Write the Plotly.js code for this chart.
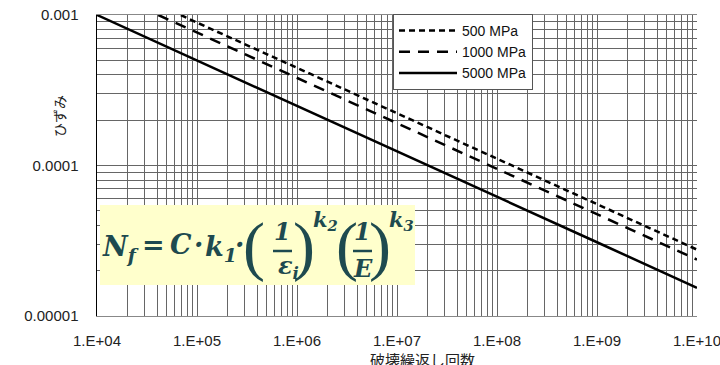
<!DOCTYPE html>
<html><head><meta charset="utf-8">
<script src="https://cdn.plot.ly/plotly-3.0.1.min.js"></script>
<style>html,body{margin:0;padding:0;background:#fff}#chart{width:720px;height:365px}</style>
</head><body><div id="chart"></div>
<script>
// ---- data ----
const seriesNames = ['500 MPa', '1000 MPa', '5000 MPa'];
const cycles500  = [6.9e4, 1e5, 1e6, 1e7, 1e8, 1e9, 1e10];
const strain500  = [1.0e-3, 8.9e-4, 4.46e-4, 2.22e-4, 1.11e-4, 5.53e-5, 2.76e-5];
const cycles1000 = [4.1e4, 1e5, 1e6, 1e7, 1e8, 1e9, 1e10];
const strain1000 = [1.0e-3, 7.66e-4, 3.82e-4, 1.91e-4, 9.5e-5, 4.74e-5, 2.37e-5];
const cycles5000 = [1e4, 1e5, 1e6, 1e7, 1e8, 1e9, 1e10];
const strain5000 = [1.0e-3, 5.0e-4, 2.49e-4, 1.24e-4, 6.2e-5, 3.09e-5, 1.54e-5];
const xTickVals = [1e4, 1e5, 1e6, 1e7, 1e8, 1e9, 1e10];
const xTickText = ['1.E+04', '1.E+05', '1.E+06', '1.E+07', '1.E+08', '1.E+09', '1.E+10'];
const yTickVals = [1e-5, 1e-4, 1e-3];
const yTickText = ['0.00001', '0.0001', '0.001'];
const xTitle = '破壊繰返し回数';
const yTitle = 'ひずみ';

// ---- layout helpers ----
const L = 97, R = 697, T = 15, B = 316, W = 720, H = 365;
const px = x => (x - L) / (R - L);
const py = y => (B - y) / (B - T);
function minorVals(lo, hi) {
  const v = [];
  for (let e = lo; e < hi; e++) for (let m = 2; m <= 9; m++) v.push(m * Math.pow(10, e));
  return v;
}
const gridC = '#666666';
const teal = '#1e4a4f';

const lineW = 2.5;
const traces = [
  {x: cycles500, y: strain500, name: seriesNames[0], mode: 'lines',
   line: {color: '#000', width: lineW, dash: '6px,4px'}},
  {x: cycles1000, y: strain1000, name: seriesNames[1], mode: 'lines',
   line: {color: '#000', width: lineW, dash: '11px,8px'}},
  {x: cycles5000, y: strain5000, name: seriesNames[2], mode: 'lines',
   line: {color: '#000', width: lineW}}
];

const fF = 'DejaVu Serif';
function piece(text, cx, cy, size, anchor) {
  return {xref: 'paper', yref: 'paper', x: px(cx), y: py(cy), text: '<b><i>' + text + '</i></b>',
    showarrow: false, xanchor: anchor || 'center', yanchor: 'middle',
    font: {family: fF, size: size, color: teal}};
}
function paren(text, cx) {
  return {xref: 'paper', yref: 'paper', x: px(cx), y: py(246), text: text,
    showarrow: false, xanchor: 'center', yanchor: 'middle',
    font: {family: 'Liberation Serif', size: 66, color: teal}};
}

const annotations = [
  {xref: 'paper', yref: 'paper', x: px(422), y: py(359), text: xTitle, showarrow: false,
   xanchor: 'center', yanchor: 'middle', font: {family: 'Noto Sans CJK JP', size: 15, color: '#222'}},
  {xref: 'paper', yref: 'paper', x: px(59), y: py(116), text: yTitle, showarrow: false, textangle: -90,
   xanchor: 'center', yanchor: 'middle', font: {family: 'Noto Sans CJK JP', size: 14, color: '#222'}},
  piece('N<sub>f</sub>', 100, 248, 27, 'left'),
  piece('=', 153, 244, 27),
  piece('C', 181, 244, 27),
  piece('·', 198, 244, 27),
  piece('k<sub>1</sub>', 203, 248, 27, 'left'),
  piece('·', 239, 244, 27),
  paren('(', 254),
  piece('1', 282, 231, 24),
  piece('ε<sub>i</sub>', 276, 267, 24, 'left'),
  paren(')', 304),
  piece('k<sub>2</sub>', 311, 220, 21, 'left'),
  paren('(', 347),
  piece('1', 362, 231, 24),
  piece('E', 363, 268, 24),
  paren(')', 380),
  piece('k<sub>3</sub>', 387, 220, 21, 'left')
];

const shapes = [
  {type: 'rect', xref: 'paper', yref: 'paper', x0: px(100), x1: px(415), y0: py(285), y1: py(205),
   fillcolor: '#ffffcc', line: {width: 0}, layer: 'above'},
  {type: 'line', xref: 'paper', yref: 'paper', x0: px(273), x1: px(292), y0: py(251), y1: py(251),
   line: {color: teal, width: 2.5}, layer: 'above'},
  {type: 'line', xref: 'paper', yref: 'paper', x0: px(353), x1: px(372), y0: py(251), y1: py(251),
   line: {color: teal, width: 2.5}, layer: 'above'}
];

const tickFont = {family: 'Liberation Sans, Arial, sans-serif', size: 15, color: '#222'};
const layout = {
  width: W, height: H,
  margin: {l: L, r: W - R, t: T, b: H - B},
  paper_bgcolor: '#fff', plot_bgcolor: '#fff',
  showlegend: true,
  legend: {x: px(393), y: py(14), xanchor: 'left', yanchor: 'top', itemwidth: 58,
    bgcolor: '#fff', bordercolor: '#555', borderwidth: 1,
    font: {family: 'Liberation Sans, Arial, sans-serif', size: 14, color: '#111'}},
  xaxis: {type: 'log', range: [4, 10], tickmode: 'array', tickvals: xTickVals, ticktext: xTickText,
    showgrid: true, gridcolor: gridC, gridwidth: 1, ticks: '', ticklabelstandoff: 11,
    ticklabeloverflow: 'allow',
    showline: true, linecolor: '#888', linewidth: 1, mirror: true, zeroline: false,
    tickfont: tickFont,
    minor: {tickmode: 'array', tickvals: minorVals(4, 10), showgrid: true, gridcolor: gridC, gridwidth: 1}},
  xaxis2: {type: 'log', range: [4, 10], overlaying: 'x', side: 'top', tickmode: 'array', tickvals: xTickVals,
    ticks: 'outside', ticklen: 4, tickcolor: '#666', showticklabels: false, showgrid: false, zeroline: false},
  yaxis: {type: 'log', range: [-5, -3], tickmode: 'array', tickvals: yTickVals, ticktext: yTickText,
    showgrid: true, gridcolor: gridC, gridwidth: 1, ticks: '', ticklabelstandoff: 14,
    showline: true, linecolor: '#000', linewidth: 1.5, zeroline: false,
    tickfont: tickFont,
    minor: {tickmode: 'array', tickvals: minorVals(-5, -3), showgrid: true, gridcolor: gridC, gridwidth: 1}},
  annotations: annotations,
  shapes: shapes
};

Plotly.newPlot('chart', traces, layout, {displayModeBar: false, staticPlot: true});
</script>
</body></html>
